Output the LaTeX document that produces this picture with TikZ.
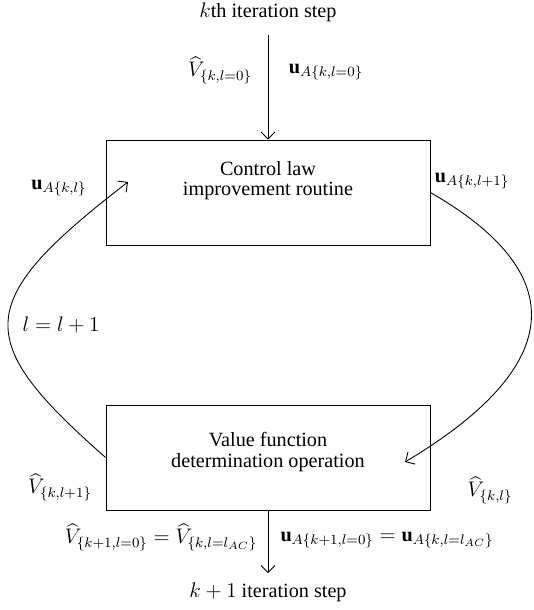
\documentclass[tikz,border=0pt]{standalone}
\usepackage{amsmath,amssymb}
\usepackage{fontspec}
\setmainfont{Liberation Serif}
\usetikzlibrary{arrows.meta,positioning}

\begin{document}
\begin{tikzpicture}[x=0.02cm,y=-0.02cm,line width=0.5pt,
    >={Straight Barb[length=4pt,width=8pt]},
    font=\fontsize{11.5}{11.5}\selectfont,
    box/.style={rectangle,draw,minimum width=6.48cm,minimum height=2.1cm,
      inner sep=0pt},
    boxtext/.style={align=center,inner sep=0pt}]
\useasboundingbox (0,0) rectangle (534,610);
\node (kstep) at (268,12) {$k$th iteration step};
\coordinate (in) at (268,35);
\node[box] (ctrl) at (268,192.5) {};
\node[boxtext] (ctrltext) at (268,181) {Control law\\improvement routine};
\node[box] (value) at (268,457.5) {};
\node[boxtext] (valuetext) at (268,452) {Value function\\determination operation};
\coordinate (out) at (268,573);
\node (k1step) at (268,592) {$k+1$ iteration step};
\coordinate (ctrlin) at (128,182);
\coordinate (valuein) at (405,462);
% flow into and out of the loop
\draw[->] (in) -- (ctrl);
\draw[->] (value) -- (out);
\node (vk0) at (220,70) {$\widehat{V}_{\{k,l=0\}}$};
\node (uk0) at (326,72) {$\mathbf{u}_{A\{k,l=0\}}$};
% the loop
\draw[->] (value.west) .. controls (-28,340) and (-28,302) .. (ctrlin);
\draw[->] (ctrl.east) .. controls (569,272) and (569,364) .. (valuein);
\node (ukl) at (59,188) {$\mathbf{u}_{A\{k,l\}}$};
\node (ukl1) at (472,181) {$\mathbf{u}_{A\{k,l+1\}}$};
\node (incr) at (61,325) {$l=l+1$};
\node (vkl1) at (60,487) {$\widehat{V}_{\{k,l+1\}}$};
\node (vkl) at (490,490) {$\widehat{V}_{\{k,l\}}$};
\node (vnext) at (161,537) {$\widehat{V}_{\{k+1,l=0\}}=\widehat{V}_{\{k,l=l_{AC}\}}$};
\node (unext) at (387,540) {$\mathbf{u}_{A\{k+1,l=0\}}=\mathbf{u}_{A\{k,l=l_{AC}\}}$};
\end{tikzpicture}
\end{document}
